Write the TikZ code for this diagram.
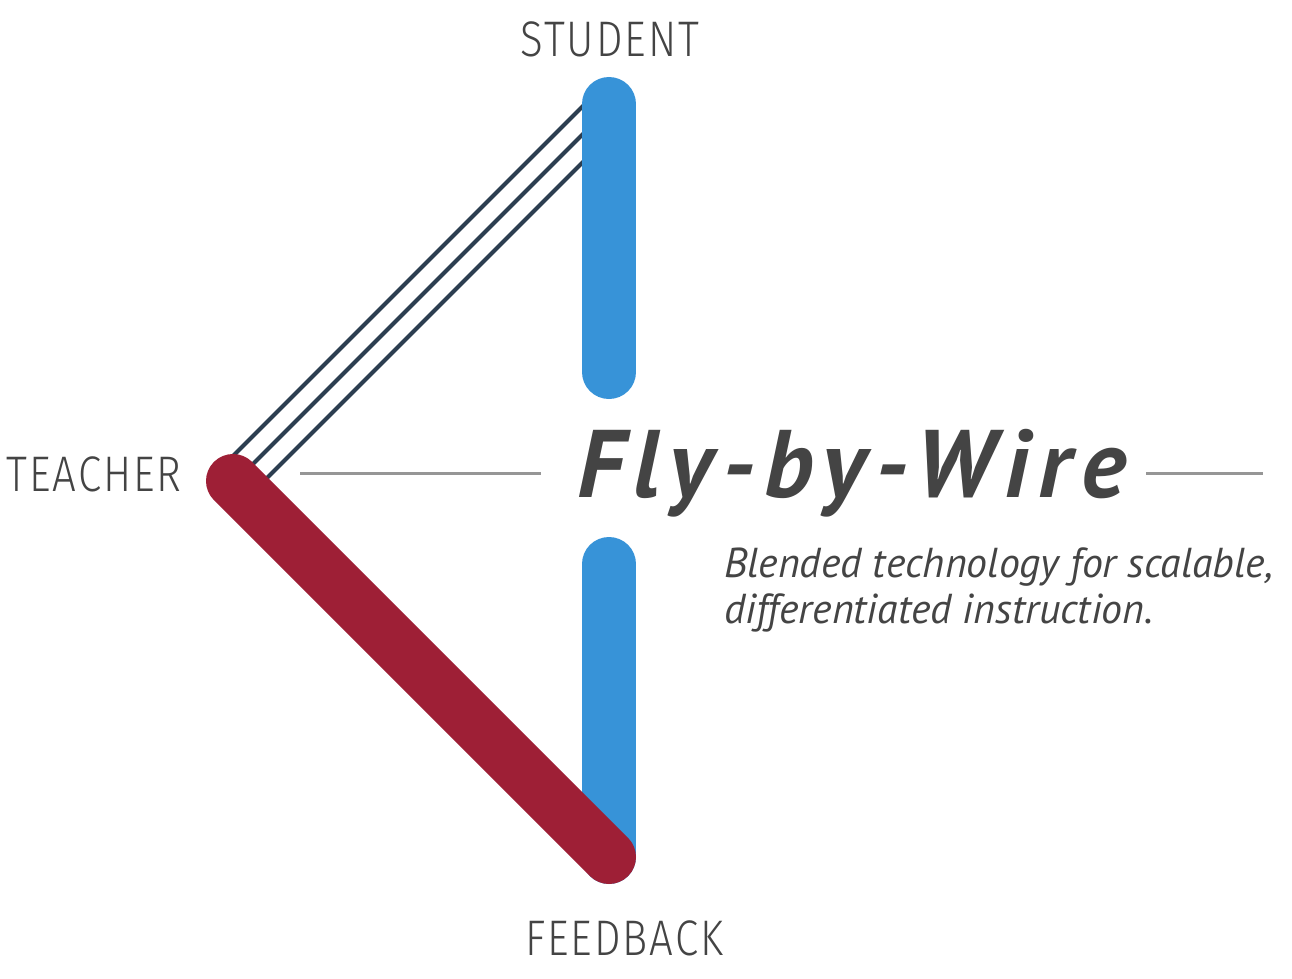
\documentclass[tikz,border=0pt]{standalone}
\usepackage{fontspec}
\setmainfont{PT Sans}
\newfontfamily\tagfont[FakeStretch=0.84,LetterSpace=4]{Fira Sans Light}
\newfontfamily\titlefont[LetterSpace=10]{PT Sans}
\usetikzlibrary{positioning}
\definecolor{barblue}{RGB}{55,147,216}
\definecolor{barred}{RGB}{158,31,54}
\definecolor{wiredark}{RGB}{44,62,80}
\definecolor{rulegray}{RGB}{150,150,150}
\definecolor{textgray}{RGB}{68,68,68}

\begin{document}
\begin{tikzpicture}[
    x=1pt, y=-1pt,
    bar/.style={line width=54pt, line cap=round},
    wire/.style={line width=4pt, draw=wiredark},
    divider/.style={line width=3pt, draw=rulegray},
    tagtext/.style={inner sep=0pt, text=textgray, font=\tagfont\fontsize{50}{50}\selectfont},
    titletext/.style={inner sep=0pt, text=textgray, font=\titlefont\bfseries\itshape\fontsize{96}{96}\selectfont},
    subtext/.style={inner sep=0pt, text=textgray, align=left, font=\itshape\fontsize{41.8}{46}\selectfont}
]
\useasboundingbox (0,0) rectangle (1292,979);

% end points of the bars
\coordinate (teacher) at (233,481);
\coordinate (fbend) at (609,857);
\coordinate (stutop) at (609,104);
\coordinate (stubot) at (609,372);
\coordinate (fbtop) at (609,564);

% wires from teacher up to student
\foreach \k in {0,1,2}
  \draw [wire] ({220.5+14*\k},{468.5+14*\k}) -- (609,{80+28*\k});

\draw [bar, barblue] (stutop) -- (stubot);
\draw [bar, barblue] (fbtop) -- (fbend);
\draw [bar, barred] (teacher) -- (fbend);

\node (student) [tagtext, anchor=base] at (610,57) {STUDENT};
\node (teachertag) [tagtext, anchor=base east] at (182,491) {TEACHER};
\node (feedback) [tagtext, anchor=base west] at (525,955) {FEEDBACK};

\node (title) [titletext, anchor=base west] at (577,497) {Fly-by-Wire};
\node (subtitle) [subtext, anchor=base west] at (724,623) {Blended technology for scalable,\\differentiated instruction.};

\coordinate (ruleA) at (300,473);
\coordinate (ruleB) at (541,473);
\coordinate (ruleC) at (1146,473);
\coordinate (ruleD) at (1263,473);
\draw [divider] (ruleA) -- (ruleB);
\draw [divider] (ruleC) -- (ruleD);
\end{tikzpicture}
\end{document}
